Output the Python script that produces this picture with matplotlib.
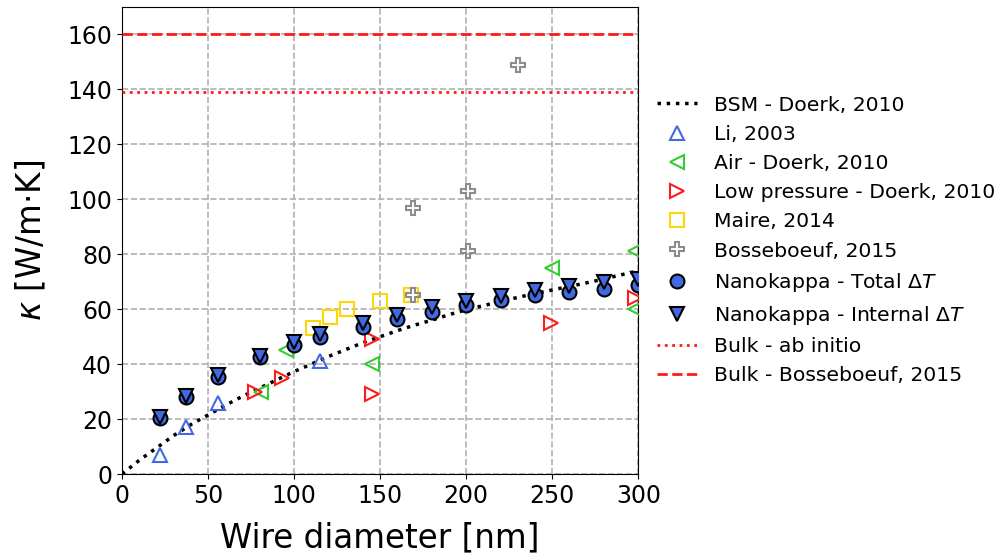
import matplotlib
matplotlib.use("Agg")
import matplotlib.pyplot as plt

# BSM model curve (Doerk, 2010)
bsm_d = [0, 10, 20, 30, 40, 50, 60, 70, 80, 90, 100, 110, 120, 130, 140, 150,
         160, 170, 180, 190, 200, 210, 220, 230, 240, 250, 260, 270, 280, 290, 300]
bsm_k = [0, 5, 9.5, 14, 18, 21.5, 25, 28.3, 31.3, 34.3, 37.3, 40, 42.8, 45.3, 47.8, 50,
         52.2, 54.2, 56, 58, 59.8, 61.3, 62.8, 64.3, 65.7, 67, 68.3, 69.6, 71, 72.5, 74]

# Li, 2003
li_d = [22, 37, 56, 115]
li_k = [7, 17, 26, 41]

# Doerk, 2010 — in air
air_d = [81, 95, 145, 250, 298, 298]
air_k = [30, 45, 40, 75, 81, 60]

# Doerk, 2010 — low pressure
lp_d = [77, 93, 145, 145, 249, 298]
lp_k = [30, 35, 49, 29, 55, 64]

# Maire, 2014
maire_d = [111, 121, 131, 150, 168]
maire_k = [53, 57, 60, 63, 65]

# Bosseboeuf, 2015
bos_d = [230, 169, 201, 201, 169]
bos_k = [149, 97, 103, 81, 65]

# Nanokappa measurements
nk_d = [22, 37, 56, 80, 100, 115, 140, 160, 180, 200, 220, 240, 260, 280, 300]
nk_total = [20.5, 28.1, 35.2, 42.7, 47, 50, 53.6, 56.4, 59, 61.5, 63.3, 65, 66.3, 67.5, 68.7]
nk_internal = [20.8, 28.4, 35.9, 43.1, 48, 50.9, 55, 57.8, 60.8, 63, 64.8, 66.9, 68.4, 69.8, 71.1]

# Bulk references
bulk_abinitio = 139
bulk_bosseboeuf = 160

blue = "#4169E1"
green = "#33cc33"
red = "#ff1a1a"
gold = "#FFD700"
gray = "#8c8c8c"

fig = plt.figure(figsize=(10.02, 5.59), dpi=100)
ax = fig.add_axes([0.1218, 0.152, 0.5152, 0.8355])

ax.plot(bsm_d, bsm_k, linestyle=":", color="black", lw=2.5, label="BSM - Doerk, 2010", zorder=3)
ax.plot(li_d, li_k, "^", mfc="none", mec=blue, mew=1.5, ms=10, ls="none", label="Li, 2003", zorder=4)
ax.plot(air_d, air_k, "<", mfc="none", mec=green, mew=1.5, ms=10, ls="none", label="Air - Doerk, 2010", zorder=4)
ax.plot(lp_d, lp_k, ">", mfc="none", mec=red, mew=1.5, ms=10, ls="none", label="Low pressure - Doerk, 2010", zorder=4)
ax.plot(maire_d, maire_k, "s", mfc="none", mec=gold, mew=1.5, ms=10, ls="none", label="Maire, 2014", zorder=4)
ax.plot(bos_d, bos_k, "P", mfc="none", mec=gray, mew=1.5, ms=10, ls="none", label="Bosseboeuf, 2015", zorder=4)
ax.plot(nk_d, nk_total, "o", mfc=blue, mec="black", mew=1.5, ms=10, ls="none",
        label=r"Nanokappa - Total $\Delta T$", zorder=5)
ax.plot(nk_d, nk_internal, "v", mfc=blue, mec="black", mew=1.5, ms=10, ls="none",
        label=r"Nanokappa - Internal $\Delta T$", zorder=6)
ax.axhline(bulk_abinitio, color=red, ls=":", lw=2, label="Bulk - ab initio", zorder=3)
ax.axhline(bulk_bosseboeuf, color=red, ls="--", lw=2, label="Bulk - Bosseboeuf, 2015", zorder=3)

ax.set_xlim(0, 300)
ax.set_ylim(0, 170)
ax.set_xticks([0, 50, 100, 150, 200, 250, 300])
ax.set_yticks([0, 20, 40, 60, 80, 100, 120, 140, 160])
ax.grid(True, ls="--", color="#b0b0b0", lw=1.2)
ax.set_axisbelow(True)
ax.tick_params(labelsize=17)
ax.set_xlabel("Wire diameter [nm]", fontsize=23.5, labelpad=10)
ax.set_ylabel(r"$\kappa$ [W/m·K]", fontsize=23.5, labelpad=14)

ax.legend(loc="center left", bbox_to_anchor=(1.0, 0.5), frameon=False, fontsize=14.7)

fig.savefig("out.png", dpi=100)
